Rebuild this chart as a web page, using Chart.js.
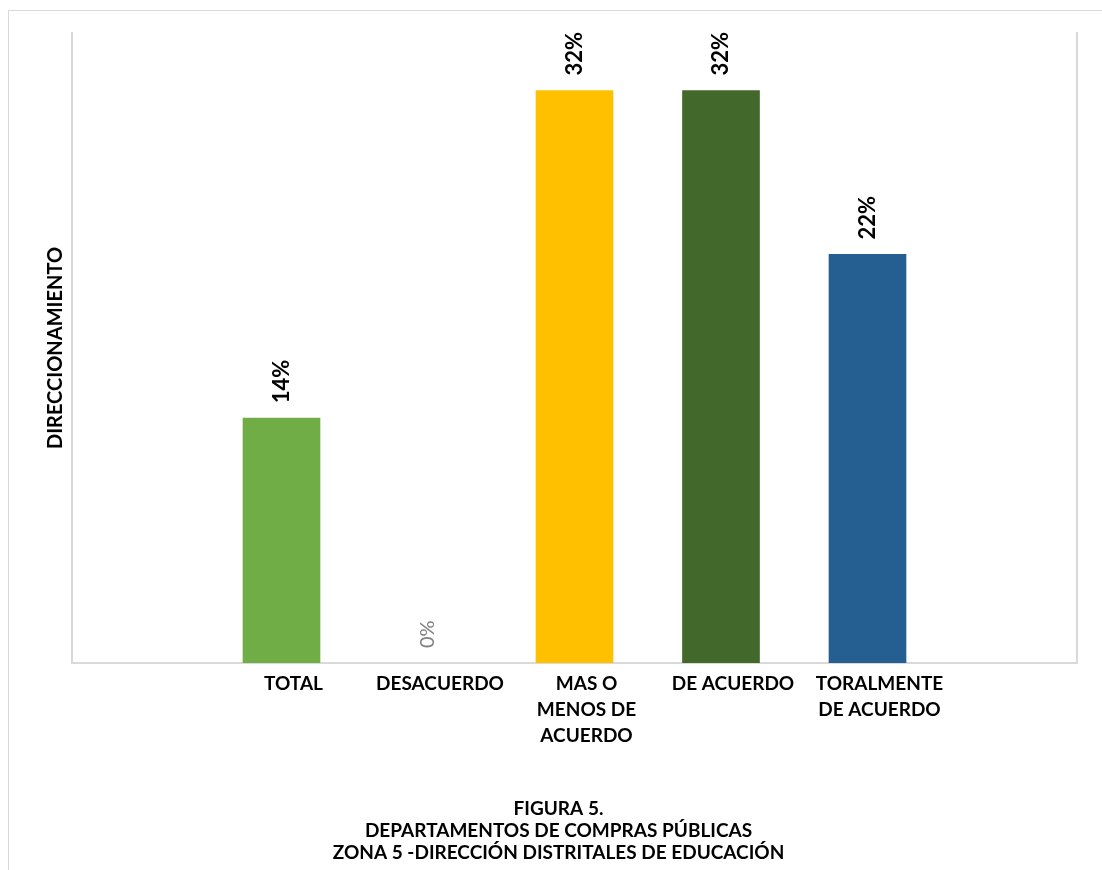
<!DOCTYPE html>
<html>
<head>
<meta charset="utf-8">
<script src="https://cdn.jsdelivr.net/npm/chart.js@4"></script>
<style>
  body { margin: 0; background: #fff; }
  #marco {
    position: absolute; left: 8px; top: 10px;
    width: 1093px; height: 859px;
    border-left: 1px solid #d9d9d9; border-top: 1px solid #d9d9d9;
  }
</style>
</head>
<body>
<div id="marco"><canvas id="direccionamiento"></canvas></div>
<script>
// datos de la figura 5
var categorias = ["TOTAL", "DESACUERDO", ["MAS O", "MENOS DE", "ACUERDO"], "DE ACUERDO", ["TORALMENTE", "DE ACUERDO"]];
var porcentajes = [13.6, 0, 31.8, 31.8, 22.7];
var etiquetas = ["14%", "0%", "32%", "32%", "22%"];
var colores = ['#70ad47', 'rgba(0,0,0,0)', '#ffc000', '#43682b', '#255e91'];
var tituloFigura = ["FIGURA 5.", "DEPARTAMENTOS DE COMPRAS PÚBLICAS", "ZONA 5 -DIRECCIÓN DISTRITALES DE EDUCACIÓN"];

var fuente = 'Lato, "Open Sans", sans-serif';

/* etiquetas verticales sobre las barras */
var etiquetasBarras = {
    id: 'etiquetasBarras',
    afterDatasetsDraw: function(chart) {
        var ctx = chart.ctx;
        var meta = chart.getDatasetMeta(0);
        meta.data.forEach(function(barra, i) {
            ctx.save();
            ctx.translate(barra.x, barra.y - 15);
            ctx.rotate(-Math.PI / 2);
            ctx.textAlign = 'left';
            ctx.textBaseline = 'middle';
            if (porcentajes[i] === 0) {
                ctx.font = '20px ' + fuente;
                ctx.fillStyle = '#808080';
            } else {
                ctx.font = 'bold 22px ' + fuente;
                ctx.fillStyle = '#000';
            }
            ctx.fillText(etiquetas[i], 0, 0);
            ctx.restore();
        });
    }
};

var ctxDir = document.getElementById("direccionamiento");

var datosDir = {
    datasets: [{
        label: 'Direccionamiento',
        data: porcentajes.map(function(v, i) { return { x: i, y: v }; }),
        backgroundColor: colores,
        borderWidth: 0,
        barThickness: 77
    }]
};

var opcionesDir = {
    responsive: true,
    maintainAspectRatio: false,
    animation: false,
    layout: { padding: { left: 31, right: 25, top: 22, bottom: 0 } },
    plugins: {
        legend: { display: false },
        tooltip: { enabled: false },
        title: {
            display: true,
            position: 'bottom',
            text: tituloFigura,
            color: '#000',
            font: { family: fuente, size: 19, weight: 'bold', lineHeight: '22px' },
            padding: { top: 41, bottom: 6 }
        }
    },
    scales: {
        x: {
            type: 'linear',
            offset: false,
            min: -1.43,
            max: 5.43,
            grid: { display: false, drawTicks: false },
            border: { color: '#d9d9d9', width: 2 },
            afterBuildTicks: function(eje) {
                eje.ticks = categorias.map(function(c, i) { return { value: i }; });
            },
            ticks: {
                autoSkip: false,
                maxRotation: 0,
                padding: 8,
                labelOffset: 12,
                color: '#000',
                font: { family: fuente, size: 19, weight: 'bold', lineHeight: '26px' },
                callback: function(valor) { return categorias[valor]; }
            }
        },
        y: {
            min: 0,
            max: 35,
            grid: { display: false, drawTicks: false },
            border: { color: '#d9d9d9', width: 2 },
            ticks: { display: false },
            title: {
                display: true,
                text: 'DIRECCIONAMIENTO',
                color: '#000',
                font: { family: fuente, size: 20, weight: 'bold' }
            }
        },
        y2: {
            position: 'right',
            min: 0,
            max: 35,
            grid: { display: false, drawTicks: false },
            border: { color: '#d9d9d9', width: 2 },
            ticks: { display: false }
        }
    }
};

var graficoDir = new Chart(ctxDir, {
    type: 'bar',
    data: datosDir,
    options: opcionesDir,
    plugins: [etiquetasBarras]
});
</script>
</body>
</html>
